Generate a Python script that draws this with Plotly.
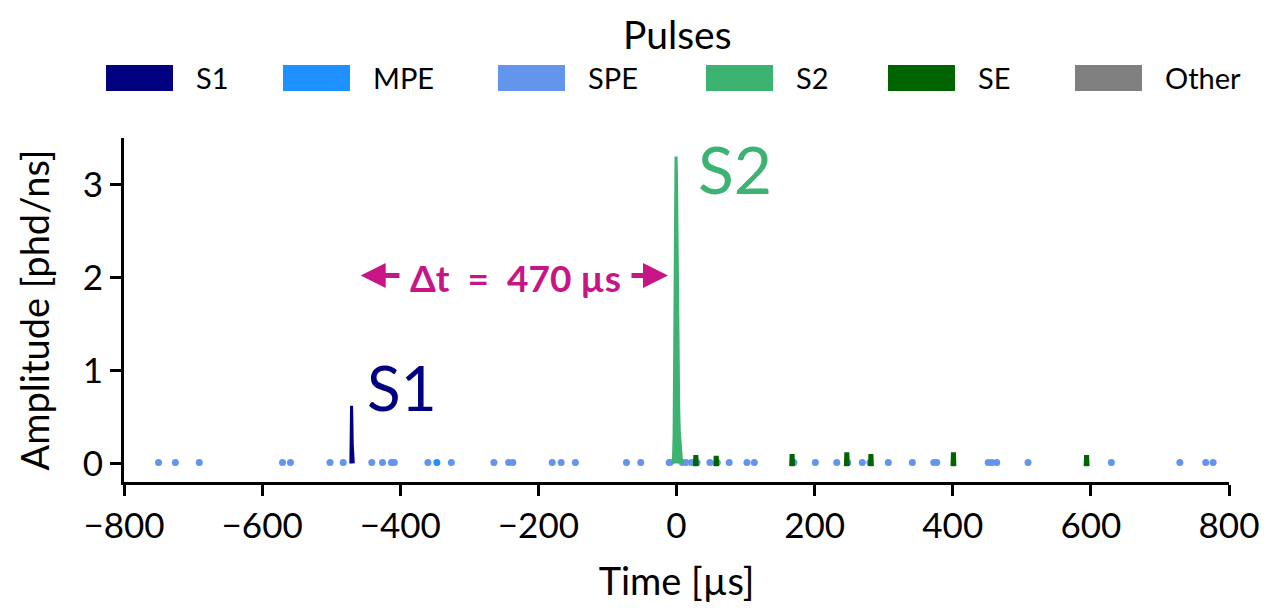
import plotly.graph_objects as go

# ---------------- data ----------------
categories = ["S1", "MPE", "SPE", "S2", "SE", "Other"]
colors = ["#000080", "#1E90FF", "#6495ED", "#3CB371", "#006400", "#808080"]

# S1 pulse waveform (time in µs, amplitude in phd/ns)
s1_t = [-471.5, -471.0, -470.5, -470.0, -469.5, -469.0, -468.0]
s1_a = [0.0, 0.30, 0.62, 0.45, 0.20, 0.05, 0.0]

# S2 pulse waveform
s2_t = [-6, -4.5, -3.5, -2.7, -2.0, -1.3, -0.7, 0.0, 0.6, 1.2, 1.8, 2.5, 3.2, 4.0, 5.5, 7.0, 9.0]
s2_a = [0.0, 0.02, 0.30, 1.0, 2.0, 2.9, 3.30, 3.1, 2.6, 2.0, 1.5, 1.0, 0.6, 0.35, 0.15, 0.05, 0.0]

# single-electron pulses: time, peak amplitude
se_t = [28, 57.5, 167.4, 246.6, 281.5, 401, 593.8]
se_a = [0.09, 0.08, 0.10, 0.12, 0.10, 0.12, 0.09]

# single photoelectron pulses
spe_t = [-750, -725.6, -691, -570.5, -559, -501.7, -482.6, -441.2, -425.7, -412.8,
         -408.6, -360, -326, -264.4, -243, -237, -180, -167, -146.4, -72.5,
         -51.8, -9.4, -10.6, 8.3, 13.6, 21.6, 29.7, 48.4, 59, 76.3, 102, 112.7,
         170, 201, 232, 248, 269, 280, 306.7, 341.5, 372.6, 376.8, 451.3,
         456.7, 463.7, 509, 629.6, 728.8, 766.3, 777]
spe_a = [0.01] * len(spe_t)

# multi photoelectron pulses
mpe_t = [-347]
mpe_a = [0.01]

x_ticks = [-800, -600, -400, -200, 0, 200, 400, 600, 800]
x_ticktext = ["\u2212800", "\u2212600", "\u2212400", "\u2212200", "0", "200", "400", "600", "800"]
y_ticks = [0, 1, 2, 3]

FONT = "Lato"
col = dict(zip(categories, colors))

fig = go.Figure()

# SPE dots
fig.add_trace(go.Scatter(x=spe_t, y=spe_a, mode="markers",
                         marker=dict(color=col["SPE"], size=7), showlegend=False, name="SPE"))
fig.add_trace(go.Scatter(x=mpe_t, y=mpe_a, mode="markers",
                         marker=dict(color=col["MPE"], size=7), showlegend=False, name="MPE"))

# SE pulses
se_x, se_y = [], []
for t, a in zip(se_t, se_a):
    se_x += [t - 0.6, t - 0.3, t, t + 0.3, t + 0.6, None]
    se_y += [-0.03, a * 0.7, a, a * 0.7, -0.03, None]
fig.add_trace(go.Scatter(x=se_x, y=se_y, mode="lines",
                         line=dict(color=col["SE"], width=5), showlegend=False, name="SE"))

# S1
fig.add_trace(go.Scatter(x=s1_t, y=s1_a, mode="lines",
                         line=dict(color=col["S1"], width=3), showlegend=False, name="S1"))
# S2
fig.add_trace(go.Scatter(x=s2_t, y=s2_a, mode="lines", fill="tozeroy",
                         fillcolor=col["S2"],
                         line=dict(color=col["S2"], width=3), showlegend=False, name="S2"))

MAG = "#C71585"
ann = []
ann.append(dict(x=-451, y=0.82, text="S1", showarrow=False, xanchor="left", yanchor="middle",
                font=dict(family=FONT, size=62, color=col["S1"])))
ann.append(dict(x=28.5, y=3.17, text="S2", showarrow=False, xanchor="left", yanchor="middle",
                font=dict(family=FONT, size=66, color=col["S2"])))
ann.append(dict(x=-233.5, y=2.0, text="<b>\u0394t\u00a0 =\u00a0 470 \u00b5s</b>", showarrow=False,
                xanchor="center", yanchor="middle",
                font=dict(family=FONT, size=37, color=MAG)))
ann.append(dict(x=-457.3, y=2.02, ax=-399, ay=2.02, axref="x", ayref="y", text="",
                showarrow=True, arrowhead=2, arrowsize=1.0, arrowwidth=5, arrowcolor=MAG))
ann.append(dict(x=-12.3, y=2.02, ax=-67.3, ay=2.02, axref="x", ayref="y", text="",
                showarrow=True, arrowhead=2, arrowsize=1.0, arrowwidth=5, arrowcolor=MAG))

# layout geometry (figure sits at an 8px body offset inside the page)
W, H = 1254, 595
PL, PR, PT, PB = 124, 1229, 138, 482   # plot area in page pixels
OFF = 8
L = PL - OFF
T = PT - OFF
R = W - (PR - OFF)
B = H - (PB - OFF)

def px(x):
    return (x - PL) / (PR - PL)

def py(y):
    return (PB - y) / (PB - PT)

# manual legend (paper coordinates)
ann.append(dict(xref="paper", yref="paper", x=px(677), y=py(9), text="Pulses", showarrow=False,
                xanchor="center", yanchor="top", font=dict(family=FONT, size=39, color="black")))
swatch_x = [106, 283, 498, 706, 888, 1075]
shapes = []
for cat, c, sx in zip(categories, colors, swatch_x):
    shapes.append(dict(type="rect", xref="paper", yref="paper",
                       x0=px(sx), x1=px(sx + 67), y0=py(91), y1=py(65),
                       fillcolor=c, line=dict(width=0)))
    ann.append(dict(xref="paper", yref="paper", x=px(sx + 88), y=py(78), text=cat,
                    showarrow=False, xanchor="left", yanchor="middle",
                    font=dict(family=FONT, size=29, color="black")))

fig.update_layout(
    width=W, height=H, autosize=False,
    margin=dict(l=L, r=R, t=T, b=B, pad=0, autoexpand=False),
    plot_bgcolor="white", paper_bgcolor="white",
    font=dict(family=FONT, color="black"),
    annotations=ann, shapes=shapes, showlegend=False,
)
fig.update_xaxes(range=[-800, 800], tickvals=x_ticks, ticktext=x_ticktext, automargin=False,
                 showline=True, linewidth=3, linecolor="black", mirror=False,
                 ticks="outside", ticklen=11, tickwidth=3, tickcolor="black",
                 showgrid=False, zeroline=False,
                 tickfont=dict(family=FONT, size=35),
                 title=dict(text="Time [\u00b5s]", font=dict(family=FONT, size=38), standoff=27))
fig.update_yaxes(range=[-0.2, 3.5], tickvals=y_ticks, automargin=False,
                 showline=True, linewidth=3, linecolor="black", mirror=False,
                 ticks="outside", ticklen=11, tickwidth=3, tickcolor="black",
                 showgrid=False, zeroline=False,
                 tickfont=dict(family=FONT, size=35),
                 title=dict(text="Amplitude [phd/ns]", font=dict(family=FONT, size=38), standoff=22))

fig.write_html("out.html")
